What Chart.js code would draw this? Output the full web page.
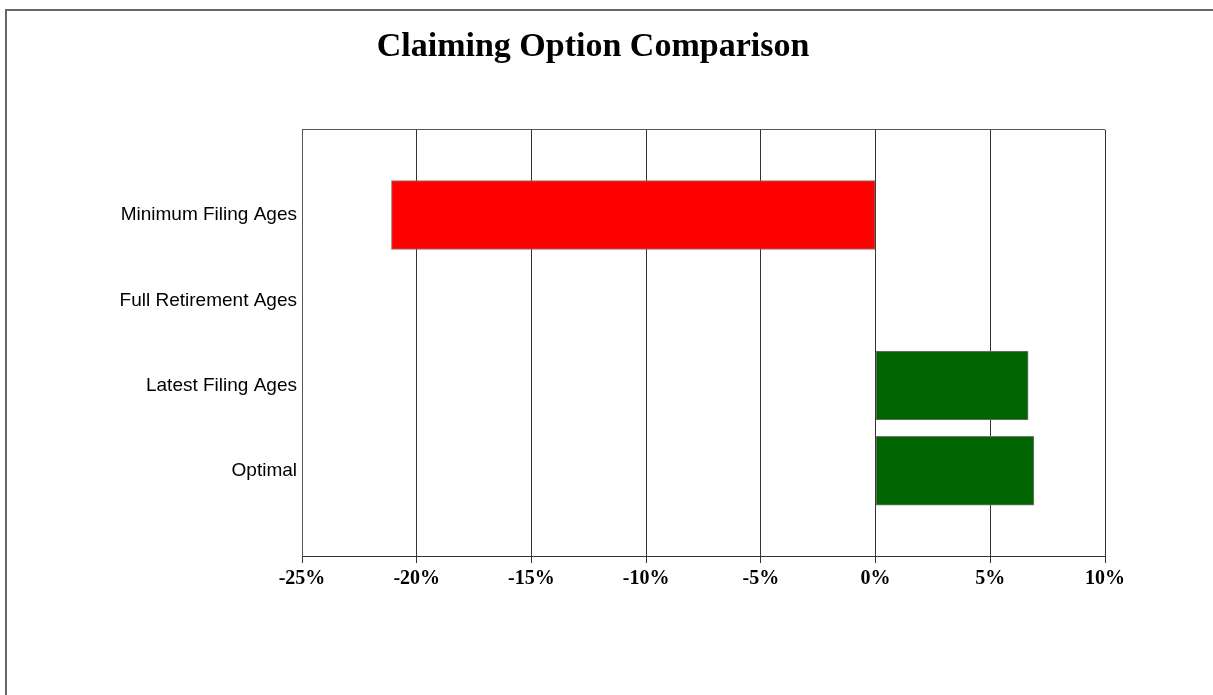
<!DOCTYPE html>
<html>
<head>
<meta charset="utf-8">
<script src="https://cdn.jsdelivr.net/npm/chart.js@4/dist/chart.umd.min.js"></script>
<style>
  html, body { margin: 0; padding: 0; background: #fff; overflow: hidden; }
  body { width: 1213px; height: 695px; position: relative; }
  #frame { position: absolute; left: 5px; top: 9px; width: 1300px; height: 800px; border: 2px solid #666; box-sizing: border-box; }
  #wrap { position: absolute; left: 0; top: 0; width: 1213px; height: 695px; }
</style>
</head>
<body>
<div id="frame"></div>
<div id="wrap"><canvas id="chart"></canvas></div>
<script>
// Claiming strategies and their percentage difference vs. full retirement age
const categories = ['Minimum Filing Ages', 'Full Retirement Ages', 'Latest Filing Ages', 'Optimal'];
const percentDiff = [-21.1, 0, 6.65, 6.9];
const xTicks = { min: -25, max: 10, step: 5 };
const chartTitle = 'Claiming Option Comparison';

// blank slots above and below keep a full row of space at each end of the axis
const rowLabels = [''].concat(categories, ['']);
const rowValues = [null].concat(percentDiff, [null]);

new Chart(document.getElementById('chart'), {
  type: 'bar',
  data: {
    labels: rowLabels,
    datasets: [{
      data: rowValues,
      backgroundColor: ctx => (ctx.raw < 0 ? '#FF0000' : '#006400'),
      borderColor: '#777',
      borderWidth: 1,
      borderSkipped: false,
      barThickness: 69
    }]
  },
  options: {
    indexAxis: 'y',
    responsive: true,
    maintainAspectRatio: false,
    animation: false,
    layout: { padding: { left: 0, right: 27, top: 0, bottom: 89 } },
    plugins: {
      legend: { display: false },
      tooltip: { enabled: false },
      title: {
        display: true,
        text: chartTitle,
        color: '#000',
        font: { family: '"Liberation Serif", "Times New Roman", serif', size: 34, weight: 'bold' },
        padding: { top: 27, bottom: 62 }
      }
    },
    scales: {
      x: {
        type: 'linear',
        position: 'bottom',
        min: xTicks.min,
        max: xTicks.max,
        ticks: {
          stepSize: xTicks.step,
          color: '#000',
          padding: 4,
          font: { family: '"Liberation Serif", "Times New Roman", serif', size: 20, weight: 'bold' },
          callback: v => v + '%'
        },
        grid: { color: '#333', lineWidth: 1, tickLength: 7, drawTicks: true },
        border: { display: true, color: '#333', width: 1 },
        afterFit: s => { s.height = 50; }
      },
      y: {
        type: 'category',
        position: 'left',
        offset: false,
        ticks: {
          autoSkip: false,
          color: '#000',
          padding: 5,
          font: { family: '"Liberation Sans", Arial, sans-serif', size: 19 }
        },
        grid: {
          offset: false,
          drawTicks: false,
          color: ctx => (ctx.index === 0 ? '#555' : 'rgba(0,0,0,0)'),
          lineWidth: 1
        },
        border: { display: true, color: '#555', width: 1 },
        afterFit: s => { s.width = 302; }
      },
      // empty right-hand axis reserving the margin beside the plot
      yRight: {
        type: 'linear',
        axis: 'y',
        position: 'right',
        display: true,
        grid: { display: false },
        border: { display: false },
        ticks: { display: false },
        afterFit: s => { s.width = 81; }
      }
    }
  }
});
</script>
</body>
</html>
